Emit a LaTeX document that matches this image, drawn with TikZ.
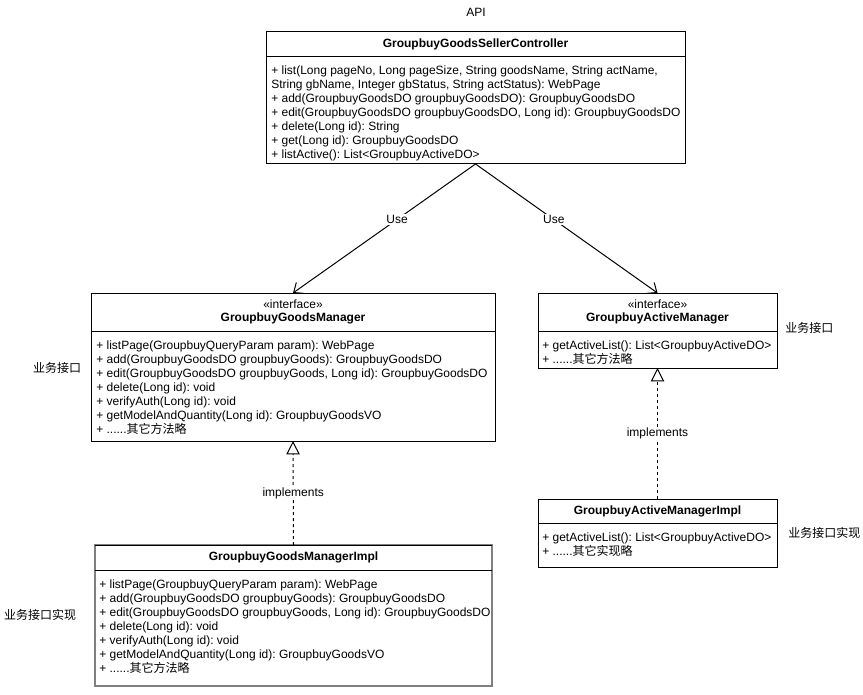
\documentclass[tikz,border=0pt]{standalone}
\usepackage{fontspec}
\setmainfont{Liberation Sans}
\newfontfamily\cjk{Noto Sans CJK SC}
\usetikzlibrary{arrows.meta}
\frenchspacing
\begin{document}
\begin{tikzpicture}[x=0.75pt,y=-0.75pt,
  font=\fontsize{9}{10.5}\selectfont\frenchspacing,
  box/.style={draw, line width=0.75pt, anchor=north west, inner sep=0pt, outer sep=0pt},
  implbox/.style={draw=black!50, line width=1.5pt, anchor=north west, inner sep=0pt, outer sep=0pt},
  title/.style={font=\fontsize{9}{10.5}\selectfont\bfseries, inner sep=0pt},
  stereo/.style={inner sep=0pt},
  members/.style={anchor=north west, align=left, inner sep=0pt},
  div/.style={line width=0.75pt},
  use/.style={-{Straight Barb[length=6pt,width=10pt]}, line width=0.75pt},
  impl/.style={-{Triangle[open,length=10pt,width=10pt]}, dash pattern=on 2.25pt off 2.25pt, line width=0.75pt},
  lbl/.style={fill=white, inner sep=1pt},
  side/.style={font=\cjk\fontsize{9}{11}\selectfont, inner sep=0pt}]
\useasboundingbox[fill=white] (0,0) rectangle (863,695);

\node[inner sep=0pt] (api) at (476,12) {API};

% controller
\node[box, minimum width=314.25pt, minimum height=99pt] (ctrl) at (266,32) {};
\draw[div] (266,57) -- (685,57);
\node[title] (ctrlT) at (475.5,44) {GroupbuyGoodsSellerController};
\node[members] (ctrlM) at (271,66) {+ list(Long pageNo, Long pageSize, String goodsName, String actName,\\
String gbName, Integer gbStatus, String actStatus): WebPage\\
+ add(GroupbuyGoodsDO groupbuyGoodsDO): GroupbuyGoodsDO\\
+ edit(GroupbuyGoodsDO groupbuyGoodsDO, Long id): GroupbuyGoodsDO\\
+ delete(Long id): String\\
+ get(Long id): GroupbuyGoodsDO\\
+ listActive(): List<GroupbuyActiveDO>};

% goods manager
\node[box, minimum width=303pt, minimum height=111pt] (gm) at (91,293) {};
\draw[div] (91,331) -- (495,331);
\node[stereo] (gmS) at (293,304) {«interface»};
\node[title] (gmT) at (293,318) {GroupbuyGoodsManager};
\node[members] (gmM) at (96,341) {+ listPage(GroupbuyQueryParam param): WebPage\\
+ add(GroupbuyGoodsDO groupbuyGoods): GroupbuyGoodsDO\\
+ edit(GroupbuyGoodsDO groupbuyGoods, Long id): GroupbuyGoodsDO\\
+ delete(Long id): void\\
+ verifyAuth(Long id): void\\
+ getModelAndQuantity(Long id): GroupbuyGoodsVO\\
+ ......{\cjk 其它方法略}};

% active manager
\node[box, minimum width=179.25pt, minimum height=56.25pt] (am) at (538,293) {};
\draw[div] (538,331) -- (777,331);
\node[stereo] (amS) at (657.5,304) {«interface»};
\node[title] (amT) at (657.5,318) {GroupbuyActiveManager};
\node[members] (amM) at (542,341) {+ getActiveList(): List<GroupbuyActiveDO>\\
+ ......{\cjk 其它方法略}};

% goods manager impl
\node[implbox, minimum width=297.75pt, minimum height=105.75pt] (gmi) at (95,545) {};
\draw[div] (95,545) -- (492,545);
\draw[div] (95,570) -- (492,570);
\node[title] (gmiT) at (293.5,557) {GroupbuyGoodsManagerImpl};
\node[members] (gmiM) at (99,580) {+ listPage(GroupbuyQueryParam param): WebPage\\
+ add(GroupbuyGoodsDO groupbuyGoods): GroupbuyGoodsDO\\
+ edit(GroupbuyGoodsDO groupbuyGoods, Long id): GroupbuyGoodsDO\\
+ delete(Long id): void\\
+ verifyAuth(Long id): void\\
+ getModelAndQuantity(Long id): GroupbuyGoodsVO\\
+ ......{\cjk 其它方法略}};

% active manager impl
\node[box, minimum width=179.25pt, minimum height=51pt] (ami) at (538,499) {};
\draw[div] (538,523) -- (777,523);
\node[title] (amiT) at (657.5,511) {GroupbuyActiveManagerImpl};
\node[members] (amiM) at (542,533) {+ getActiveList(): List<GroupbuyActiveDO>\\
+ ......{\cjk 其它实现略}};

% side labels
\node[side] (l1) at (57,368) {业务接口};
\node[side] (l2) at (40,615) {业务接口实现};
\node[side, anchor=west] (r1) at (785,328) {业务接口};
\node[side, anchor=west] (r2) at (788,533) {业务接口实现};

% connectors
\draw[use] (ctrl.south) -- node[lbl,pos=0.43]{Use} (gm.north);
\draw[use] (ctrl.south) -- node[lbl,pos=0.43]{Use} (am.north);
\draw[impl] (gmi.north) -- node[lbl]{implements} (gm.south);
\draw[impl] (ami.north) -- node[lbl]{implements} (am.south);
\end{tikzpicture}
\end{document}
